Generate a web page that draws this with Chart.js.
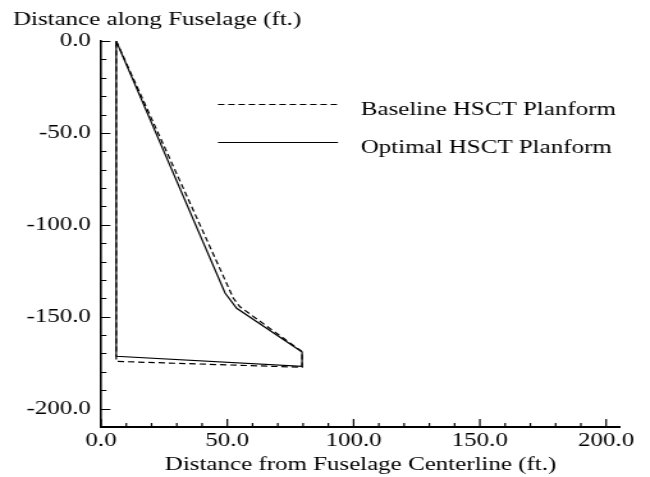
<!DOCTYPE html>
<html>
<head>
<meta charset="utf-8">
<script src="https://cdn.jsdelivr.net/npm/chart.js@4.4.1/dist/chart.umd.min.js"></script>
<style>
  html, body { margin: 0; padding: 0; background: #fff; }
  #plan { display: block; background: #fff; }
</style>
</head>
<body>
<!-- drawn at 508 wide, shown at 650: the reference is stretched sideways -->
<canvas id="plan" width="508" height="477" style="width:650px;height:477px"></canvas>
<script>
// === HSCT planform, baseline vs optimal ===

// planform outlines: x = distance from centerline, y = distance along fuselage (ft.)
const baselineX = [6, 52.4, 55.0, 79.6, 79.6, 6, 6];
const baselineY = [0, -140.0, -144.6, -169.0, -177.5, -174.3, 0];
const optimalX = [6, 49.1, 53.7, 79.6, 79.6, 6, 6];
const optimalY = [0, -137.1, -145.4, -169.2, -177.0, -171.5, 0];

const xTicks = [0, 50, 100, 150, 200];
const yTicks = [0, -50, -100, -150, -200];

const seriesLabels = ['Baseline HSCT Planform', 'Optimal HSCT Planform'];
const xTitle = 'Distance from Fuselage Centerline (ft.)';
const yTitle = 'Distance along Fuselage (ft.)';

const FONT = '"Liberation Serif", "Times New Roman", serif';
const FONT_SIZE = 19.5;
const DASH = [5, 3];

function toPoints(xs, ys) {
  return xs.map((x, i) => ({ x, y: ys[i] }));
}

// inward tick marks, major every 50 and minor every 10
const tickMarks = {
  id: 'tickMarks',
  afterDraw(chart) {
    const { ctx, chartArea, scales } = chart;
    ctx.save();
    ctx.strokeStyle = '#000';
    ctx.lineWidth = 1.2;
    ctx.beginPath();
    for (let v = 0; v >= -200; v -= 10) {
      const py = Math.round(scales.y.getPixelForValue(v)) + 0.5;
      const len = v % 50 === 0 ? 7.3 : 4.2;
      ctx.moveTo(chartArea.left, py);
      ctx.lineTo(chartArea.left + len, py);
    }
    for (let v = 0; v <= 200; v += 10) {
      const px = scales.x.getPixelForValue(v);
      const len = v % 50 === 0 ? 8 : 4;
      ctx.moveTo(px, chartArea.bottom);
      ctx.lineTo(px, chartArea.bottom - len);
    }
    ctx.stroke();
    ctx.restore();
  }
};

// axis titles and the line legend
const texts = {
  id: 'texts',
  afterDraw(chart) {
    const { ctx, chartArea } = chart;
    ctx.save();
    ctx.fillStyle = '#000';
    ctx.font = `${FONT_SIZE}px ${FONT}`;
    ctx.textBaseline = 'alphabetic';

    ctx.textAlign = 'left';
    ctx.fillText(yTitle, 10.2, 25);

    ctx.textAlign = 'center';
    ctx.fillText(xTitle, (chartArea.left + chartArea.right) / 2, 470);

    // legend
    const rows = [
      { label: seriesLabels[0], y: 104, dash: DASH, text: 115 },
      { label: seriesLabels[1], y: 142, dash: [], text: 153 },
    ];
    ctx.textAlign = 'left';
    ctx.strokeStyle = '#000';
    ctx.lineWidth = 1.2;
    rows.forEach(r => {
      ctx.setLineDash(r.dash);
      ctx.beginPath();
      ctx.moveTo(170.4, r.y + 0.5);
      ctx.lineTo(264.2, r.y + 0.5);
      ctx.stroke();
      ctx.fillText(r.label, 282, r.text);
    });
    ctx.restore();
  }
};

const ctx = document.getElementById('plan').getContext('2d');

new Chart(ctx, {
  type: 'scatter',
  data: {
    datasets: [
      {
        label: seriesLabels[0],
        data: toPoints(baselineX, baselineY),
        showLine: true,
        borderColor: '#000',
        borderWidth: 1.2,
        borderDash: DASH,
        pointRadius: 0,
        tension: 0,
      },
      {
        label: seriesLabels[1],
        data: toPoints(optimalX, optimalY),
        showLine: true,
        borderColor: '#000',
        borderWidth: 1.2,
        pointRadius: 0,
        tension: 0,
      },
    ],
  },
  options: {
    responsive: false,
    animation: false,
    events: [],
    layout: { padding: { top: 41, right: 23.4, left: 0, bottom: 0 } },
    plugins: {
      legend: { display: false },
      tooltip: { enabled: false },
    },
    scales: {
      x: {
        type: 'linear',
        min: 0,
        max: 205.5,
        afterFit: s => { s.height = 50; },
        afterBuildTicks: s => { s.ticks = xTicks.map(v => ({ value: v })); },
        grid: { display: false, drawTicks: false },
        border: { display: true, color: '#000', width: 2 },
        ticks: {
          padding: 2,
          color: '#000',
          font: { family: FONT, size: FONT_SIZE },
          maxRotation: 0,
          autoSkip: false,
          callback: v => v.toFixed(1),
        },
      },
      y: {
        type: 'linear',
        min: -210,
        max: 0,
        afterFit: s => { s.width = 79; },
        afterBuildTicks: s => { s.ticks = yTicks.map(v => ({ value: v })); },
        grid: { display: false, drawTicks: false },
        border: { display: true, color: '#000', width: 1.6 },
        ticks: {
          padding: 8,
          color: '#000',
          font: { family: FONT, size: FONT_SIZE },
          autoSkip: false,
          callback: v => v.toFixed(1),
        },
      },
    },
  },
  plugins: [tickMarks, texts],
});
</script>
</body>
</html>
